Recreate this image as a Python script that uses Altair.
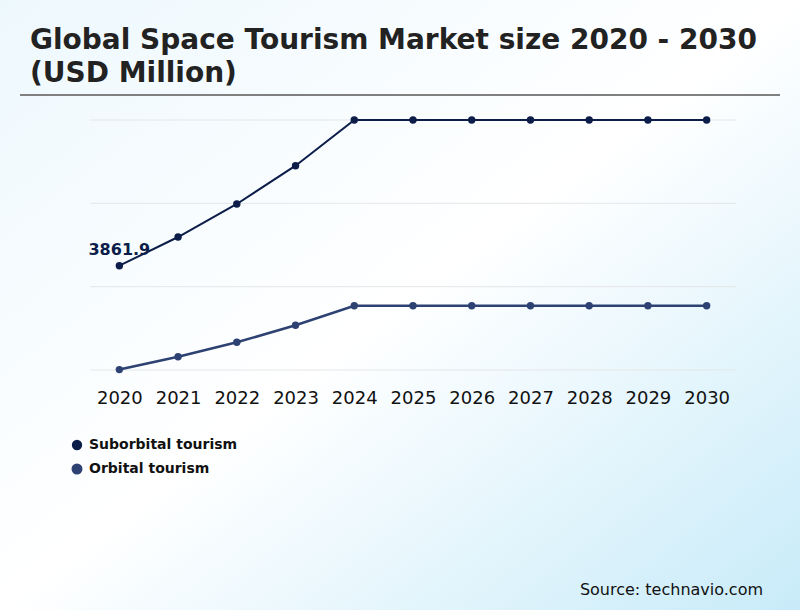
import altair as alt
import pandas as pd

years = ["2020", "2021", "2022", "2023", "2024", "2025", "2026", "2027", "2028", "2029", "2030"]
series_names = ["Suborbital tourism", "Orbital tourism"]
suborbital = [3861.9, 4925, 6148, 7566, 9258, 9258, 9258, 9258, 9258, 9258, 9258]
orbital = [15, 493, 1025, 1655, 2381, 2381, 2381, 2381, 2381, 2381, 2381]
grid_values = [0, 3086, 6172, 9258]
series_colors = ["#0b1d48", "#2d4273"]
series_widths = [2, 2.6]

title_lines = ["Global Space Tourism Market size 2020 - 2030", "(USD Million)"]
source_text = "Source: technavio.com"

rows = []
for i, y in enumerate(years):
    rows.append({"year": y, "series": series_names[0], "value": suborbital[i], "first": i == 0})
    rows.append({"year": y, "series": series_names[1], "value": orbital[i], "first": i == 0})
df = pd.DataFrame(rows)
grid_df = pd.DataFrame({"value": grid_values})

FONT = "DejaVu Sans"
W, H = 646, 250

x_enc = alt.X("year:N", sort=years,
              scale=alt.Scale(type="point", padding=0.5),
              axis=alt.Axis(title=None, labelAngle=0, labelFontSize=18, labelFont=FONT,
                            labelColor="#111111", ticks=False, domain=False, grid=False,
                            labelPadding=19, zindex=1))
y_scale = alt.Scale(domain=[grid_values[0], grid_values[-1]], nice=False, zero=False)
y_enc = alt.Y("value:Q", scale=y_scale, axis=None)
color_enc = alt.Color("series:N", scale=alt.Scale(domain=series_names, range=series_colors),
                      legend=alt.Legend(title=None, orient="none", legendX=-20, legendY=318,
                                        symbolType="circle", symbolSize=70, symbolStrokeWidth=0,
                                        labelFont=FONT, labelFontSize=14, labelFontWeight="bold",
                                        labelColor="#111111", rowPadding=5, labelOffset=5))

bg = alt.Chart(alt.Data(values=[{}])).mark_rect(
    color=alt.LinearGradient(
        gradient="linear", x1=0, y1=0, x2=1, y2=1,
        stops=[alt.GradientStop(color="#edf8fd", offset=0),
               alt.GradientStop(color="#ffffff", offset=0.5),
               alt.GradientStop(color="#c8ebf9", offset=1)]),
).encode(x=alt.value(-90), x2=alt.value(710), y=alt.value(-120), y2=alt.value(490))

grid = alt.Chart(grid_df).mark_rule(color="#e4e6e8", strokeWidth=1).encode(
    y=alt.Y("value:Q", scale=y_scale, axis=None), x=alt.value(0), x2=alt.value(W))

base = alt.Chart(df)

lines = base.mark_line().encode(
    x=x_enc, y=y_enc, color=color_enc,
    strokeWidth=alt.StrokeWidth("series:N", scale=alt.Scale(domain=series_names, range=series_widths), legend=None),
)
points = base.mark_circle(size=55, opacity=1).encode(x=x_enc, y=y_enc, color=alt.Color("series:N", legend=None))

label = base.transform_filter(
    (alt.datum.first == True) & (alt.datum.series == series_names[0])
).mark_text(font=FONT, fontSize=16, fontWeight="bold", color=series_colors[0], dy=-16).encode(
    x=x_enc, y=y_enc, text=alt.Text("value:Q", format=".1f"))

title = alt.Chart(alt.Data(values=[{"t": title_lines}])).mark_text(
    font=FONT, fontSize=28, fontWeight="bold", color="#222222", align="left", baseline="alphabetic",
    lineHeight=33
).encode(text="t:N", x=alt.value(-60), y=alt.value(-71))

rule = alt.Chart(alt.Data(values=[{}])).mark_rule(color="#808080", strokeWidth=2).encode(
    x=alt.value(-70), x2=alt.value(690), y=alt.value(-25))

source = alt.Chart(alt.Data(values=[{"t": source_text}])).mark_text(
    font=FONT, fontSize=16, color="#111111", align="right", baseline="alphabetic"
).encode(text="t:N", x=alt.value(673), y=alt.value(475))

chart = alt.layer(bg, grid, lines, points, label, title, rule, source).properties(
    width=W, height=H,
    autosize=alt.AutoSizeParams(type="none"),
    padding={"left": 90, "top": 120, "right": 64, "bottom": 240},
).resolve_scale(y="shared").configure_view(stroke=None).configure(background="white")

chart.save("out.html", embed_options={"renderer": "svg", "actions": False})
